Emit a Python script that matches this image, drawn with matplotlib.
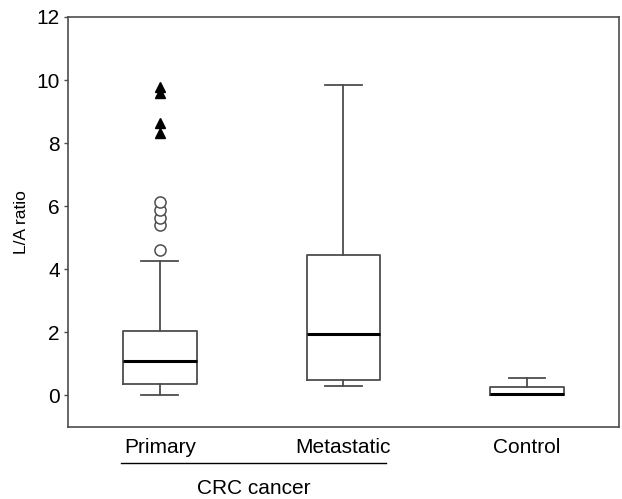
import matplotlib
matplotlib.use("Agg")
import matplotlib.pyplot as plt
import matplotlib.transforms as mtransforms

plt.rcParams['font.family'] = ['Liberation Sans', 'DejaVu Sans']

# values
groups = ['Primary', 'Metastatic', 'Control']
whislo = [0.03, 0.29, 0.03]
q1 = [0.35, 0.48, 0.03]
med = [1.09, 1.96, 0.05]
q3 = [2.03, 4.44, 0.27]
whishi = [4.25, 9.84, 0.56]

# Primary group: outliers (circles) and extremes (triangles)
primary_outliers = [4.62, 5.39, 5.64, 5.89, 6.13]
primary_extremes = [8.31, 8.63, 9.58, 9.79]

line_col = '#4d4d4d'

stats = []
for i, name in enumerate(groups):
    stats.append({'label': name, 'whislo': whislo[i], 'q1': q1[i], 'med': med[i],
                  'q3': q3[i], 'whishi': whishi[i], 'fliers': []})

fig = plt.figure(figsize=(6.22, 4.99), dpi=100)
ax = fig.add_axes([0.1093, 0.1443, 0.8857, 0.8217])

positions = [1, 2, 3]
ax.bxp(stats, positions=positions, widths=0.4, showfliers=False,
       boxprops=dict(color=line_col, linewidth=1.3),
       whiskerprops=dict(color=line_col, linewidth=1.3),
       capprops=dict(color=line_col, linewidth=1.3),
       medianprops=dict(color='black', linewidth=2.2),
       capwidths=0.2)

ax.plot([positions[0]] * len(primary_outliers), primary_outliers, linestyle='none',
        marker='o', markersize=8, markerfacecolor='white', markeredgecolor=line_col,
        markeredgewidth=1.1)
ax.plot([positions[0]] * len(primary_extremes), primary_extremes, linestyle='none',
        marker='^', markersize=6.5, color='black')

ax.set_xlim(0.5, 3.5)
ax.set_ylim(-1, 12)
ax.set_yticks([0, 2, 4, 6, 8, 10, 12])
ax.set_xticks(positions)
ax.set_xticklabels(groups, fontsize=15)
ax.tick_params(axis='x', length=0, pad=8)
ax.tick_params(axis='y', length=3, width=1, color=line_col, labelsize=15, pad=3)
ax.set_ylabel('L/A ratio', fontsize=12.5, labelpad=5)

for sp in ax.spines.values():
    sp.set_color(line_col)
    sp.set_linewidth(1.2)

# grouping line and label below the first two categories
trans = mtransforms.blended_transform_factory(ax.transData, ax.transAxes)
ax.plot([0.79, 2.23], [-0.087, -0.087], color='black', linewidth=1, transform=trans,
        clip_on=False)
ax.text(1.51, -0.15, 'CRC cancer', transform=trans, ha='center', va='center', fontsize=15)

fig.savefig('out.png', dpi=100)
